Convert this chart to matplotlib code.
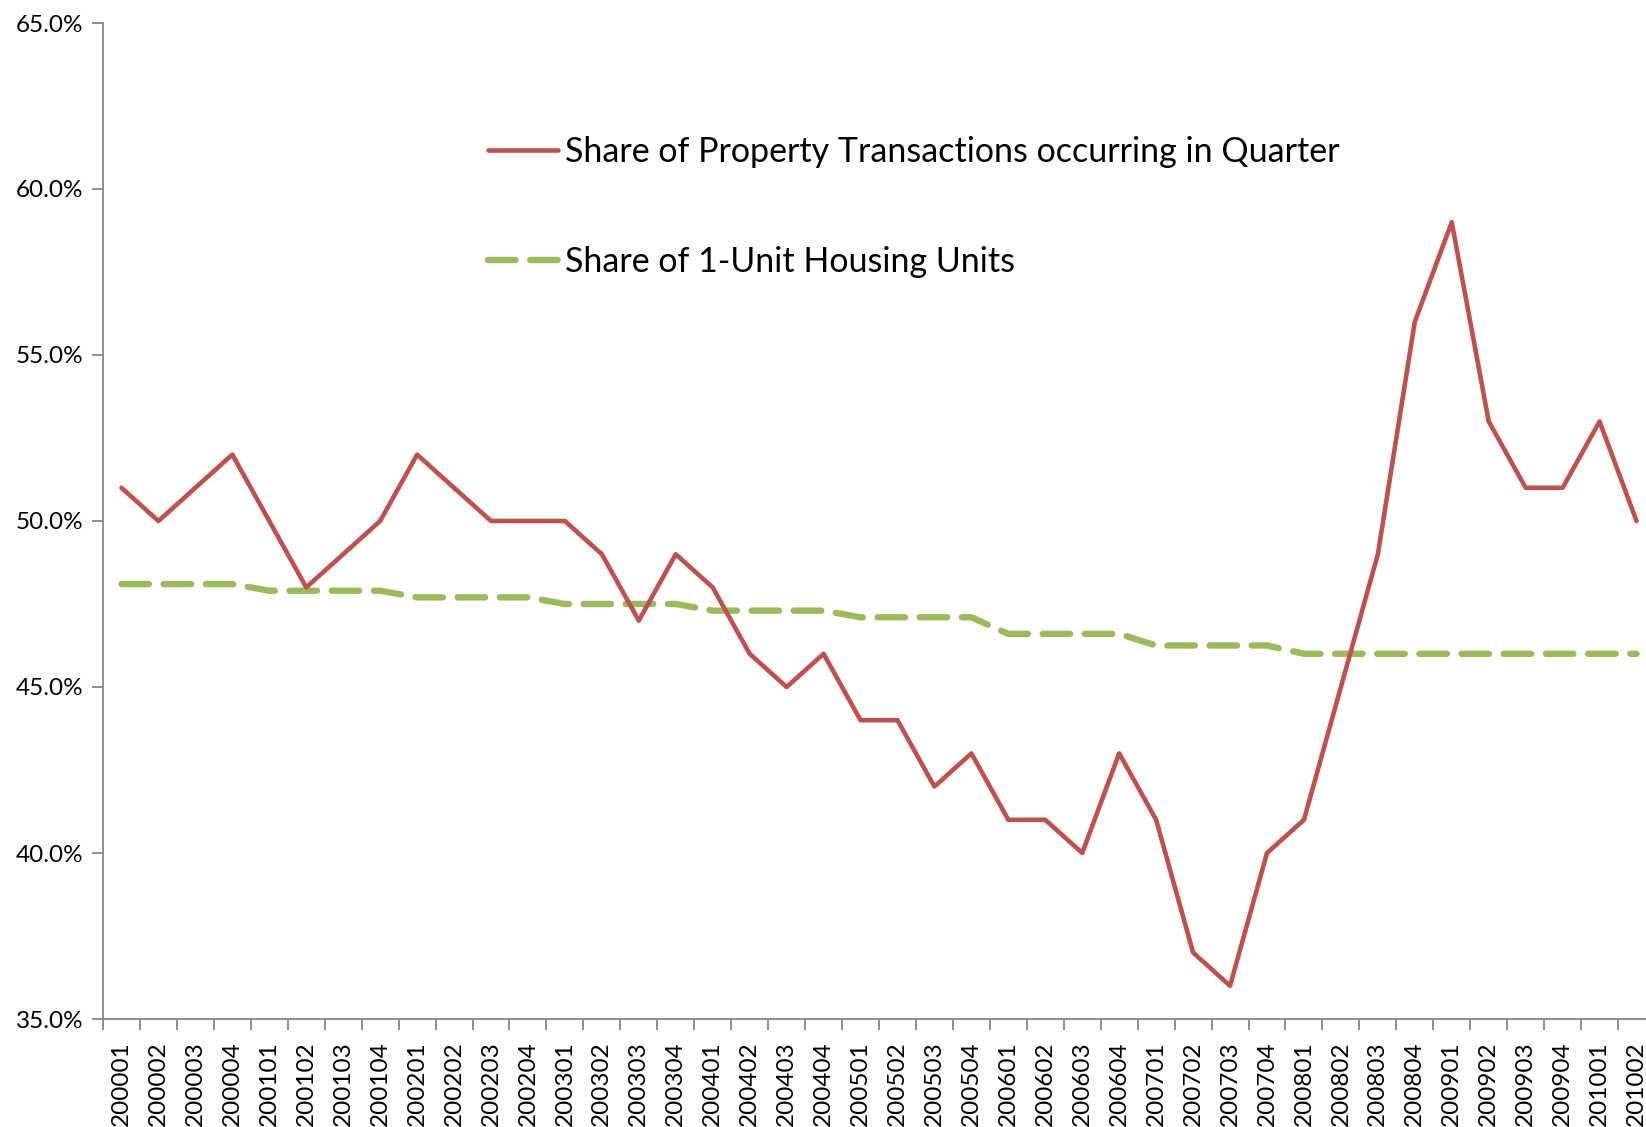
import matplotlib.pyplot as plt
from matplotlib.ticker import FuncFormatter

plt.rcParams['font.family'] = ['Lato', 'DejaVu Sans']

# Quarters 2000Q1 - 2010Q2
quarters = ['200001', '200002', '200003', '200004',
            '200101', '200102', '200103', '200104',
            '200201', '200202', '200203', '200204',
            '200301', '200302', '200303', '200304',
            '200401', '200402', '200403', '200404',
            '200501', '200502', '200503', '200504',
            '200601', '200602', '200603', '200604',
            '200701', '200702', '200703', '200704',
            '200801', '200802', '200803', '200804',
            '200901', '200902', '200903', '200904',
            '201001', '201002']

# Share of property transactions occurring in quarter (%)
transactions = [51, 50, 51, 52,
                50, 48, 49, 50,
                52, 51, 50, 50,
                50, 49, 47, 49,
                48, 46, 45, 46,
                44, 44, 42, 43,
                41, 41, 40, 43,
                41, 37, 36, 40,
                41, 45, 49, 56,
                59, 53, 51, 51,
                53, 50]

# Share of 1-unit housing units (%)
one_unit = [48.1, 48.1, 48.1, 48.1,
            47.9, 47.9, 47.9, 47.9,
            47.7, 47.7, 47.7, 47.7,
            47.5, 47.5, 47.5, 47.5,
            47.3, 47.3, 47.3, 47.3,
            47.1, 47.1, 47.1, 47.1,
            46.6, 46.6, 46.6, 46.6,
            46.25, 46.25, 46.25, 46.25,
            46.0, 46.0, 46.0, 46.0,
            46.0, 46.0, 46.0, 46.0,
            46.0, 46.0]

fig = plt.figure(figsize=(16.46, 11.27), dpi=100)
ax = fig.add_axes([103 / 1646, 1 - 1019 / 1127, (1655 - 103) / 1646, (1019 - 23) / 1127])

x = range(len(quarters))
ax.plot(x, transactions, color='#C0504D', lw=3.3, solid_joinstyle='round',
        solid_capstyle='round', label='Share of Property Transactions occurring in Quarter', zorder=3)
ax.plot(x, one_unit, color='#9BBB59', lw=4.6, dashes=(4.3, 2.3), dash_capstyle='round',
        label='Share of 1-Unit Housing Units', zorder=2)

ax.set_xlim(-0.5, len(quarters) - 0.5)
ax.set_ylim(35, 65)
ax.set_yticks([35, 40, 45, 50, 55, 60, 65])
ax.yaxis.set_major_formatter(FuncFormatter(lambda v, p: f'{v:.1f}%'))
ax.set_xticks(list(x))
ax.set_xticklabels(quarters, rotation=90)
ax.set_xticks([i - 0.5 for i in range(len(quarters) + 1)], minor=True)
ax.tick_params(axis='x', which='major', length=0, labelsize=17.5, pad=16)
ax.tick_params(axis='x', which='minor', length=8, color='#868686', width=1.3)
ax.tick_params(axis='y', length=8, color='#868686', width=1.3, labelsize=17.5, pad=6)

for s in ['top', 'right']:
    ax.spines[s].set_visible(False)
for s in ['left', 'bottom']:
    ax.spines[s].set_color('#868686')
    ax.spines[s].set_linewidth(1.3)

ax.legend(loc='upper left', bbox_to_anchor=(0.2286, 0.917), frameon=False, fontsize=24.5,
          handlelength=2.05, handletextpad=0.2, labelspacing=2.28)

fig.savefig('out.png', dpi=100)
